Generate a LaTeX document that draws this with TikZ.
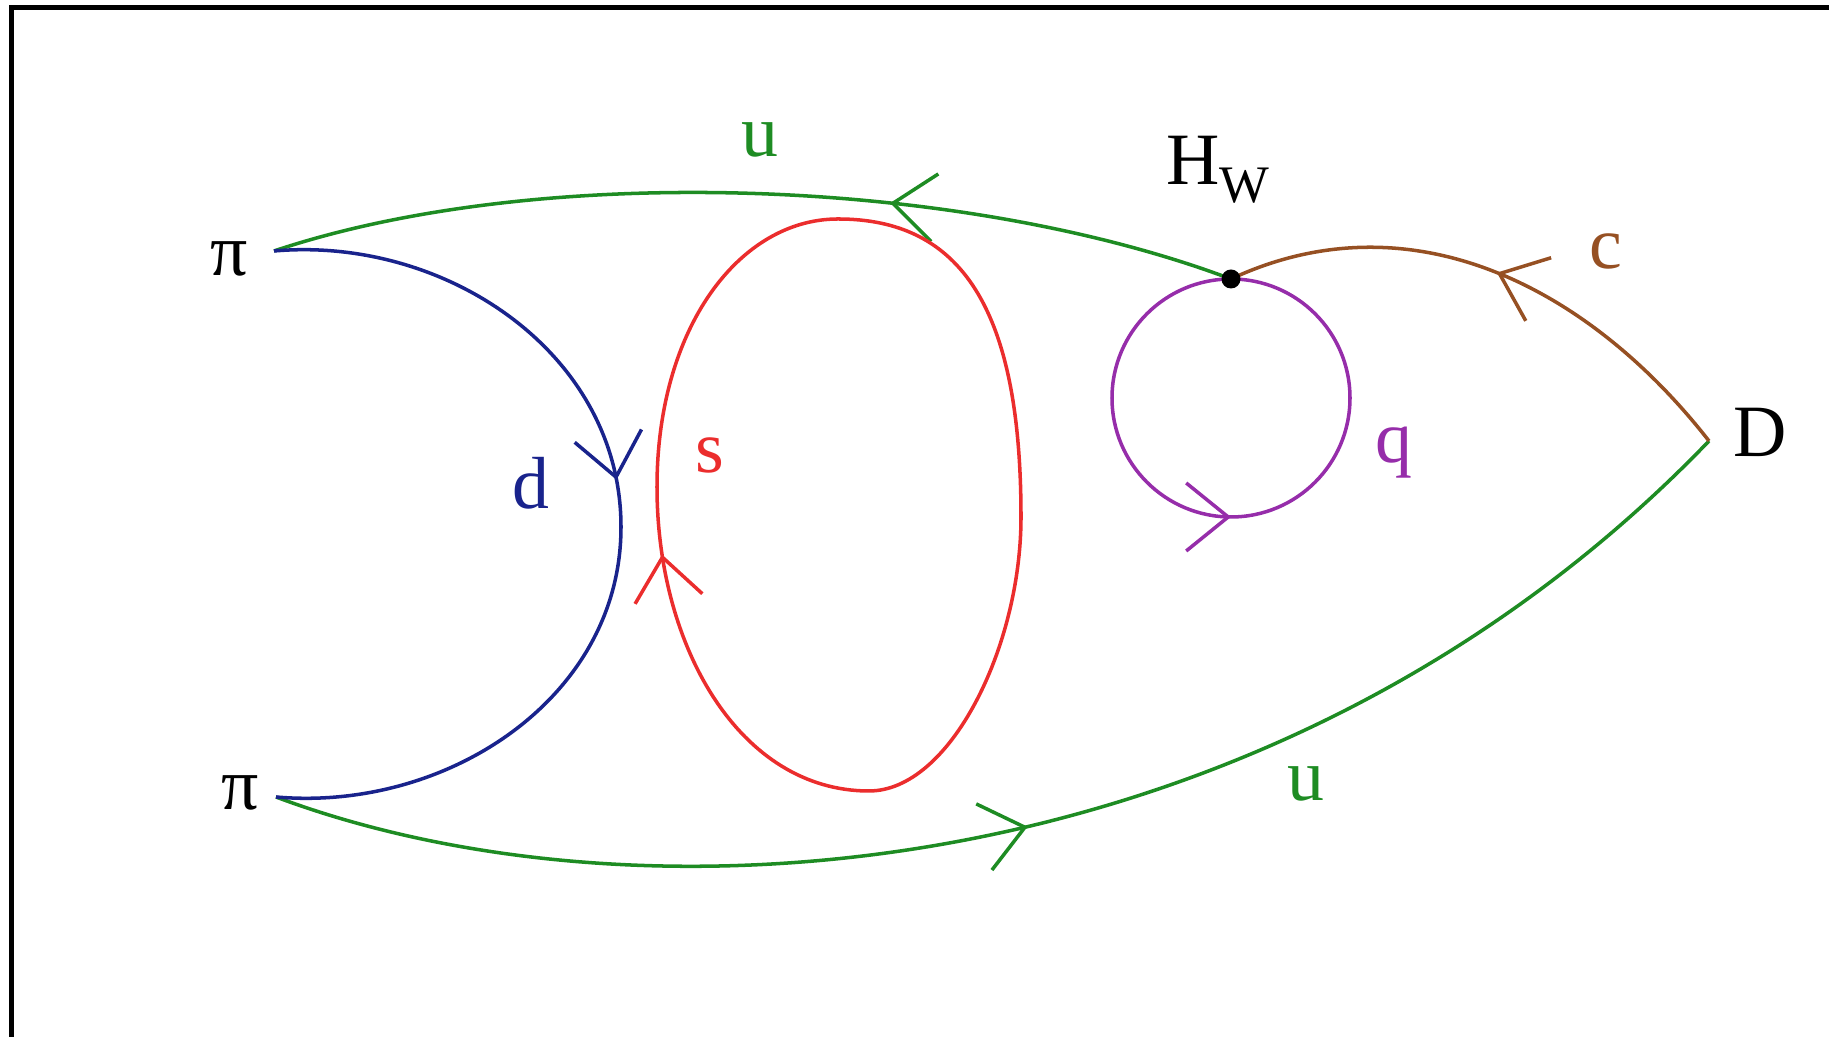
\documentclass[tikz,border=0pt]{standalone}
\usepackage{fontspec}
\setmainfont{Liberation Serif}
\usetikzlibrary{arrows.meta,decorations.markings}

\definecolor{ugreen}{RGB}{30,140,35}
\definecolor{dblue}{RGB}{25,35,140}
\definecolor{sred}{RGB}{235,45,45}
\definecolor{qpurple}{RGB}{150,45,170}
\definecolor{cbrown}{RGB}{150,80,35}

\begin{document}
\begin{tikzpicture}[line width=1pt,
    every node/.style={font=\fontsize{21}{24}\selectfont, inner sep=0pt},
    arrowat/.style={postaction={decorate}, decoration={markings,
        mark=at position #1 with {\arrow{Straight Barb[length=4.2mm,width=6.8mm]}}}}]
  \useasboundingbox (0,0) rectangle (18.29,10.37);
  \draw[line width=1.4pt] (0.115,0) -- (0.115,10.295) -- (18.29,10.295);

  % vertices
  \coordinate (pitop) at (2.74,7.86);
  \coordinate (pibot) at (2.76,2.40);
  \coordinate (hw) at (12.31,7.58);
  \coordinate (dpt) at (17.09,5.96);
  \coordinate (dturn) at (6.21,5.10);
  % s loop
  \coordinate (sbot) at (8.69,2.46);
  \coordinate (sleft) at (6.57,5.5);
  \coordinate (stop) at (8.38,8.18);
  \coordinate (sright) at (10.21,5.2);

  % labels
  \node (lpitop) at (2.29,7.78) {π};
  \node (lpibot) at (2.40,2.44) {π};
  \node (ld) at (17.60,6.05) {D};
  \node (lhw) at (12.18,8.67) {H\raisebox{-5pt}{\fontsize{15}{15}\selectfont W}};
  \node[ugreen] (lu1) at (7.60,8.97) {u};
  \node[ugreen] (lu2) at (13.06,2.53) {u};
  \node[cbrown] (lc) at (16.06,7.86) {c};
  \node[qpurple] (lq) at (13.94,5.84) {q};
  \node[sred] (ls) at (7.10,5.82) {s};
  \node[dblue] (ldq) at (5.31,5.54) {d};

  % quark lines
  \draw[ugreen, arrowat=0.36] (hw) .. controls (9.6,8.6) and (5.4,8.75) .. (pitop);
  \draw[ugreen, arrowat=0.49] (pibot) .. controls (6.5,1.0) and (12.8,1.5) .. (dpt);
  \draw[cbrown, arrowat=0.5] (dpt) to[out=128,in=25] (hw);
  \draw[dblue, arrowat=0.455] (pitop) to[out=5,in=90] (dturn) to[out=-90,in=-5] (pibot);
  \draw[qpurple, arrowat=0.5] (hw) arc[start angle=90, end angle=450, radius=1.19];
  \draw[sred, arrowat=0.228] (sbot) .. controls (7.4,2.46) and (6.57,3.9) .. (sleft)
    .. controls (6.57,7.1) and (7.4,8.18) .. (stop)
    .. controls (9.6,8.18) and (10.21,7.3) .. (sright)
    .. controls (10.21,3.9) and (9.5,2.46) .. cycle;

  \fill (hw) circle (0.095);
\end{tikzpicture}
\end{document}
